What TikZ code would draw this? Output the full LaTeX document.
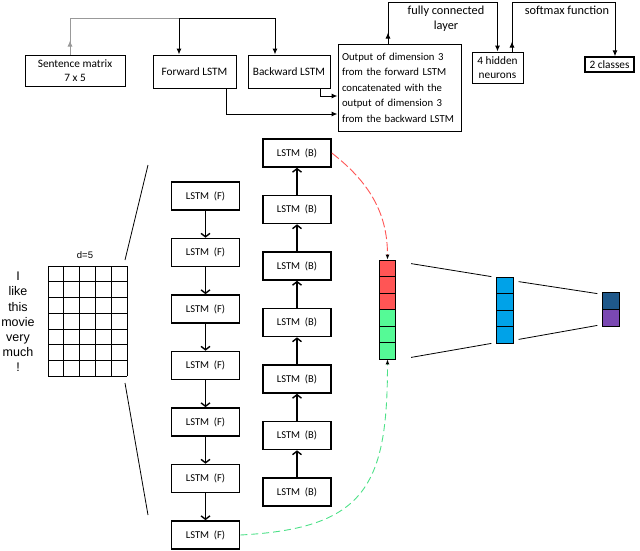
\documentclass[tikz,border=0pt]{standalone}
\usepackage{fontspec}
\setmainfont{Carlito}
\newfontfamily\arialfont{Liberation Sans}
\usetikzlibrary{arrows.meta}

\definecolor{vred}{RGB}{255,85,85}
\definecolor{vgreen}{RGB}{85,250,150}
\definecolor{vblue}{RGB}{0,162,232}
\definecolor{odark}{RGB}{31,88,138}
\definecolor{opurple}{RGB}{122,72,178}

\begin{document}
\begin{tikzpicture}[x=1pt,y=-1pt,
    topbox/.style={draw,line width=1pt,align=center,inner sep=0pt,font=\fontsize{11.3}{13.5}\selectfont},
    lbl/.style={align=center,font=\fontsize{12.3}{15}\selectfont},
    lstm/.style={draw,line width=1.6pt,minimum width=68pt,minimum height=28pt,font=\fontsize{10.5}{12}\selectfont},
    chain/.style={line width=1.4pt,-{Straight Barb[length=3.5pt,width=9pt,line width=1.4pt]}},
    flow/.style={line width=1pt,-{Latex[length=6pt,width=5pt]}},
    cell/.style={draw,line width=0.8pt,minimum width=16.5pt,minimum height=16.5pt,inner sep=0pt},
    tip/.style={-{Latex[length=5pt,width=4pt,color=black]}}]

    \useasboundingbox (0,0) rectangle (640,550);

    % パラメータの定義
    \pgfmathsetmacro{\fx}{205.5}
    \pgfmathsetmacro{\bx}{297}
    \pgfmathsetmacro{\dy}{56.5}

    % 上段の流れ図
    \node[topbox,minimum width=100pt,minimum height=31pt] (sent) at (75,70.5) {Sentence matrix\\7 x 5};
    \node[topbox,minimum width=83pt,minimum height=33pt] (fwd) at (194.5,71.5) {Forward LSTM};
    \node[topbox,minimum width=82pt,minimum height=33pt] (bwd) at (289,71.5) {Backward LSTM};
    \node[topbox,align=left,text width=115pt,inner sep=4pt,minimum height=87pt,
          font=\fontsize{10.7}{15.5}\selectfont] (cat) at (399.5,87.5)
        {Output of dimension 3\\from the forward LSTM\\concatenated with the\\output of dimension 3\\from the backward LSTM};
    \node[topbox,minimum width=51pt,minimum height=31pt] (hid) at (497.5,67.5) {4 hidden\\neurons};
    \node[topbox,line width=1.4pt,minimum width=49pt,minimum height=15pt] (cls) at (609.5,64.5) {2 classes};
    \node[lbl] (fcl) at (446,19) {fully connected\\layer};
    \node[lbl] (smx) at (567,10) {softmax function};

    \coordinate (j1) at (179,18);
    \draw[gray!80,line width=1pt] ([shift={(-5,0)}]sent.north) |- (j1);
    \draw[gray!80,flow] ([shift={(-5,0)}]sent.north) -- ++(0,-14);
    \draw[flow] (j1) -- (j1 |- fwd.north);
    \draw[flow] (j1) -| ([shift={(-14,0)}]bwd.north);
    \draw[flow] ([shift={(31,0)}]bwd.south) |- ([shift={(0,8.5)}]cat.west);
    \draw[flow] ([shift={(31.5,0)}]fwd.south) |- ([shift={(0,26.5)}]cat.west);
    \draw[flow] ([shift={(-11.5,0)}]cat.north) coordinate (u1) -- ++(0,-41) -| (hid.north);
    \draw[flow] (u1) -- ++(0,-11);
    \draw[flow] ([shift={(14.5,0)}]hid.north) coordinate (u2) -- ++(0,-49) -| ([shift={(5.5,0)}]cls.north);
    \draw[flow] (u2) -- ++(0,-10);

    % 文章と行列
    \node[align=center,font=\arialfont\fontsize{12.5}{15.2}\selectfont] (words) at (18,322)
        {I\\like\\this\\movie\\very\\much\\!};
    \node[font=\arialfont\fontsize{9.5}{11}\selectfont] (dim) at (85,255) {d=5};
    \foreach \k in {0,...,5} \draw[line width=0.7pt] ({48+15.8*\k},266) -- ++(0,110);
    \foreach \k in {0,...,7} \draw[line width=0.7pt] (48,{266+110/7*\k}) -- ++(79,0);
    \coordinate (mt) at (125,260);
    \coordinate (mb) at (125,383);
    \coordinate (zt) at (148,165);
    \coordinate (zb) at (148,515);
    \draw[line width=0.8pt] (mt) -- (zt);
    \draw[line width=0.8pt] (mb) -- (zb);

    % LSTM の列
    \foreach \i in {1,...,7} {
        \node[lstm] (f\i) at (\fx,{196+\dy*(\i-1)}) {LSTM~~(F)};
        \node[lstm] (b\i) at (\bx,{153+\dy*(\i-1)}) {LSTM~~(B)};
    }
    \foreach \i in {1,...,6} {
        \pgfmathtruncatemacro{\j}{\i+1}
        \draw[chain] (f\i) -- (f\j);
        \draw[chain] (b\j) -- (b\i);
    }

    % ベクトル
    \foreach \i/\c in {1/vred,2/vred,3/vred,4/vgreen,5/vgreen,6/vgreen}
        \node[cell,fill=\c] (v\i) at (387.5,{268.25+16.5*(\i-1)}) {};
    \foreach \i in {1,...,4}
        \node[cell,fill=vblue] (h\i) at (505,{285.25+16.5*(\i-1)}) {};
    \node[cell,fill=odark,minimum height=17pt] (o1) at (611,300.5) {};
    \node[cell,fill=opurple,minimum height=17pt] (o2) at (611,317.5) {};

    \draw[line width=0.8pt] ([shift={(15,4)}]v1.north east) -- ([shift={(-5,0)}]h1.north west);
    \draw[line width=0.8pt] ([shift={(15,-2)}]v6.south east) -- ([shift={(-5,0)}]h4.south west);
    \draw[line width=0.8pt] ([shift={(5,5)}]h1.north east) -- ([shift={(-5,2)}]o1.north west);
    \draw[line width=0.8pt] ([shift={(5,-4)}]h4.south east) -- ([shift={(-5,-1)}]o2.south west);

    % 破線の曲線
    \draw[vred,line width=0.9pt,dash pattern=on 9pt off 3pt,tip] (b1.east) to[out=-38,in=90] (v1.north);
    \draw[vgreen!90!black,line width=0.9pt,dash pattern=on 7pt off 4pt,tip] (f7.east) to[out=3,in=-90,looseness=1.4] (v6.south);

\end{tikzpicture}
\end{document}
